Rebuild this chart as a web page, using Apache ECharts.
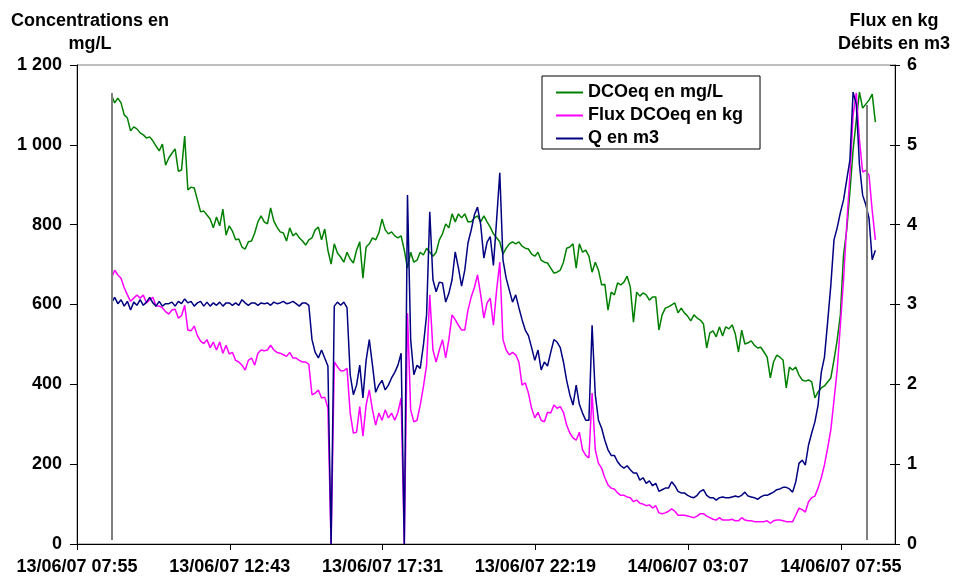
<!DOCTYPE html>
<html>
<head>
<meta charset="utf-8">
<script src="https://cdn.jsdelivr.net/npm/echarts@6.0.0/dist/echarts.min.js"></script>
<style>
  html, body { margin: 0; padding: 0; background: #fff; }
  #chart { width: 954px; height: 583px; }
</style>
</head>
<body>
<div id="chart"></div>
<script>
// temps en minutes depuis le 13/06/07 07:55 ; un relevé toutes les 6 min à partir de 09:00
const debut = 65
const pas = 6

const ticksX = [0, 288, 576, 864, 1152, 1440]
const labelsX = ['13/06/07 07:55', '13/06/07 12:43', '13/06/07 17:31', '13/06/07 22:19', '14/06/07 03:07', '14/06/07 07:55']

// DCOeq en mg/L (axe gauche)
const dcoeq = [
  1125,1105,1117,1105,1075,1067,1035,1045,1040,1030,
  1025,1017,1020,1010,997,985,1002,949,967,979,
  990,934,937,1022,887,894,892,862,832,834,
  824,814,792,819,797,839,774,797,784,762,
  764,744,739,757,759,779,807,822,807,802,
  842,809,794,782,779,759,792,772,779,767,
  759,749,762,767,787,794,762,789,736,701,
  752,729,719,706,731,714,704,736,757,666,
  744,752,767,762,779,814,787,777,782,772,
  767,772,736,691,731,706,711,731,724,741,
  731,721,731,762,777,802,792,827,807,827,
  817,827,807,807,817,822,807,822,807,794,
  777,767,757,726,741,752,757,752,757,746,
  741,739,726,721,731,711,706,704,691,679,
  681,686,706,741,744,752,691,752,731,736,
  721,681,706,686,649,651,586,631,624,654,
  649,656,671,644,556,631,621,629,624,611,
  619,619,536,574,591,594,599,604,579,591,
  579,571,559,574,566,561,551,491,529,534,
  519,544,521,544,539,549,526,481,536,501,
  504,509,498,491,493,481,468,416,456,473,
  468,461,391,443,436,443,423,411,408,411,
  406,366,381,391,396,406,416,461,511,574,
  724,787,882,987,1062,1132,1092,1102,1112,1127,
  1057
]

// Flux DCOeq en kg (axe droit)
const flux = [
  3.33,3.43,3.37,3.33,3.21,3.12,3.04,3.08,3.12,3.08,
  3.12,3.02,3.06,3.09,2.98,2.98,2.96,2.91,2.88,2.93,
  2.94,2.83,2.86,2.99,2.68,2.67,2.73,2.61,2.54,2.51,
  2.56,2.46,2.53,2.43,2.53,2.39,2.49,2.38,2.40,2.30,
  2.28,2.24,2.18,2.30,2.33,2.24,2.39,2.43,2.42,2.43,
  2.49,2.43,2.40,2.39,2.37,2.35,2.40,2.33,2.33,2.30,
  2.28,2.28,2.25,1.87,1.89,1.93,1.83,1.84,1.70,0,
  2.28,2.22,2.17,2.17,2.20,1.64,1.39,1.40,1.72,1.35,
  1.74,1.93,1.68,1.49,1.64,1.55,1.68,1.58,1.64,1.55,
  1.65,1.83,0,2.89,1.68,1.53,1.55,1.74,1.97,2.24,
  3.12,2.43,2.28,2.43,2.56,2.33,2.56,2.87,2.81,2.74,
  2.68,2.68,2.93,3.09,3.21,3.37,3.12,2.83,3.02,3.08,
  2.74,3.18,3.53,2.56,2.43,2.37,2.40,2.37,2.28,1.99,
  2.02,1.89,1.70,1.58,1.65,1.55,1.53,1.65,1.64,1.74,
  1.70,1.72,1.65,1.49,1.39,1.33,1.30,1.40,1.18,1.11,
  1.08,1.89,1.18,1.01,0.95,0.83,0.74,0.70,0.69,0.64,
  0.61,0.61,0.59,0.58,0.53,0.55,0.51,0.50,0.48,0.49,
  0.45,0.48,0.39,0.38,0.39,0.41,0.44,0.41,0.36,0.36,
  0.36,0.35,0.34,0.33,0.35,0.38,0.38,0.35,0.33,0.31,
  0.30,0.33,0.30,0.30,0.30,0.31,0.29,0.29,0.33,0.30,
  0.29,0.29,0.28,0.28,0.28,0.28,0.29,0.26,0.29,0.30,
  0.30,0.29,0.28,0.28,0.28,0.36,0.45,0.43,0.40,0.53,
  0.58,0.60,0.70,0.83,0.99,1.20,1.43,1.80,2.18,2.74,
  3.31,4.00,4.62,5.37,5.65,5.06,4.66,4.68,4.62,4.18,
  3.81
]

// Q en m3 (axe droit)
const debit = [
  3.02,3.09,3.01,3.06,2.98,3.04,2.93,3.03,2.99,3.06,
  2.99,3.03,3.09,3.02,2.98,3.04,2.98,3.01,3.01,3.03,
  2.98,3.04,3.01,3.07,3.02,3.04,2.98,3.02,3.04,2.98,
  3.03,2.98,3.02,2.99,3.03,2.98,3.02,3.02,2.99,3.02,
  2.99,3.06,3.02,2.99,3.02,3.02,2.99,3.02,3.01,3.02,
  2.99,3.03,3.01,3.02,3.04,3.01,3.02,3.04,3.01,2.98,
  3.02,3.02,2.99,2.56,2.40,2.33,2.43,2.33,2.23,0,
  2.98,3.03,2.99,3.03,2.96,2.12,1.87,1.99,2.24,1.83,
  2.30,2.56,2.24,1.90,1.99,2.05,1.93,1.99,2.08,2.15,
  2.24,2.39,0,4.37,2.56,2.12,2.24,2.20,2.49,2.87,
  4.16,3.31,3.16,3.28,3.27,3.03,3.14,3.31,3.66,3.46,
  3.23,3.43,3.77,3.93,4.12,4.22,4.00,3.58,3.78,3.85,
  3.49,4.06,4.65,3.56,3.33,3.18,3.03,3.12,2.96,2.81,
  2.68,2.61,2.46,2.30,2.43,2.18,2.28,2.23,2.40,2.56,
  2.53,2.46,2.28,2.05,1.87,1.74,1.99,1.75,1.64,1.55,
  1.55,2.74,1.87,1.55,1.45,1.30,1.18,1.11,1.11,1.03,
  0.98,0.95,0.98,0.93,0.89,0.89,0.80,0.83,0.76,0.79,
  0.73,0.76,0.66,0.68,0.70,0.70,0.78,0.73,0.66,0.64,
  0.64,0.61,0.59,0.58,0.61,0.66,0.68,0.61,0.58,0.58,
  0.55,0.58,0.59,0.58,0.58,0.59,0.60,0.59,0.61,0.65,
  0.60,0.59,0.58,0.56,0.59,0.61,0.61,0.63,0.65,0.68,
  0.69,0.71,0.71,0.69,0.65,0.78,1.01,1.05,0.99,1.24,
  1.39,1.53,1.74,2.15,2.34,2.78,3.24,3.81,3.96,4.15,
  4.31,4.56,4.81,5.66,5.51,4.75,4.37,4.25,4.08,3.56,
  3.68
]

// traits gris début / fin de prélèvement : [minute, bas, haut] en mg/L
const bornes = [[65, 10, 1130], [1488, 10, 1100]]

const police = '"Liberation Sans", Arial, sans-serif'
const texte = { color: '#000', fontSize: 18, fontWeight: 'bold', fontFamily: police }

const points = arr => arr.map((v, i) => [debut + i * pas, v])

const chart = echarts.init(document.getElementById('chart'))
chart.setOption({
  animation: false,
  backgroundColor: '#fff',
  grid: { left: 77, right: 59, top: 65, bottom: 39, show: true, borderColor: '#808080', borderWidth: 1 },
  graphic: [
    { type: 'text', x: 90, y: 33, style: { text: 'Concentrations en\nmg/L', align: 'center', verticalAlign: 'middle', lineHeight: 23, fill: '#000', fontSize: 18, fontWeight: 'bold', fontFamily: police } },
    { type: 'text', x: 894, y: 33, style: { text: 'Flux en kg\nDébits en m3', align: 'center', verticalAlign: 'middle', lineHeight: 23, fill: '#000', fontSize: 18, fontWeight: 'bold', fontFamily: police } }
  ],
  legend: {
    orient: 'vertical',
    left: 542,
    top: 76,
    padding: [6, 17, 0, 14],
    itemGap: 2,
    itemWidth: 27,
    itemHeight: 2,
    icon: 'rect',
    borderColor: '#000',
    borderWidth: 1,
    backgroundColor: '#fff',
    textStyle: Object.assign({ lineHeight: 21 }, texte),
    data: ['DCOeq en mg/L', 'Flux DCOeq en kg', 'Q en m3']
  },
  xAxis: {
    type: 'value',
    min: 0,
    max: 1542,
    axisLine: { lineStyle: { color: '#000', width: 1 } },
    axisTick: { customValues: ticksX, length: 6, lineStyle: { color: '#000' } },
    axisLabel: Object.assign({
      customValues: ticksX,
      margin: 14,
      formatter: v => labelsX[ticksX.indexOf(v)] || ''
    }, texte),
    splitLine: { show: false }
  },
  yAxis: [
    {
      type: 'value', min: 0, max: 1200, interval: 200, position: 'left',
      axisLine: { show: true, lineStyle: { color: '#000' } },
      axisTick: { show: true, length: 7, lineStyle: { color: '#000' } },
      axisLabel: Object.assign({ margin: 15, formatter: v => String(v).replace(/\B(?=(\d{3})+(?!\d))/g, ' ') }, texte),
      splitLine: { show: false }
    },
    {
      type: 'value', min: 0, max: 6, interval: 1, position: 'right',
      axisLine: { show: true, lineStyle: { color: '#000' } },
      axisTick: { show: true, length: 5, lineStyle: { color: '#000' } },
      axisLabel: Object.assign({ margin: 12 }, texte),
      splitLine: { show: false }
    },
    {
      // demi-traits intérieurs des graduations de droite
      type: 'value', min: 0, max: 6, interval: 1, position: 'right',
      axisLine: { show: false },
      axisTick: { show: true, inside: true, length: 5, lineStyle: { color: '#000' } },
      axisLabel: { show: false },
      splitLine: { show: false }
    }
  ],
  series: [
    {
      name: 'DCOeq en mg/L', type: 'line', yAxisIndex: 0, symbol: 'none',
      data: points(dcoeq),
      lineStyle: { color: '#008000', width: 1.5 },
      itemStyle: { color: '#008000' },
      markLine: {
        silent: true, symbol: 'none', label: { show: false },
        lineStyle: { color: '#808080', width: 2, type: 'solid' },
        data: bornes.map(b => [{ coord: [b[0], b[1]] }, { coord: [b[0], b[2]] }])
      }
    },
    {
      name: 'Flux DCOeq en kg', type: 'line', yAxisIndex: 1, symbol: 'none',
      data: points(flux),
      lineStyle: { color: '#ff00ff', width: 1.5 },
      itemStyle: { color: '#ff00ff' }
    },
    {
      name: 'Q en m3', type: 'line', yAxisIndex: 1, symbol: 'none',
      data: points(debit),
      lineStyle: { color: '#000080', width: 1.5 },
      itemStyle: { color: '#000080' }
    }
  ]
})
</script>
</body>
</html>
